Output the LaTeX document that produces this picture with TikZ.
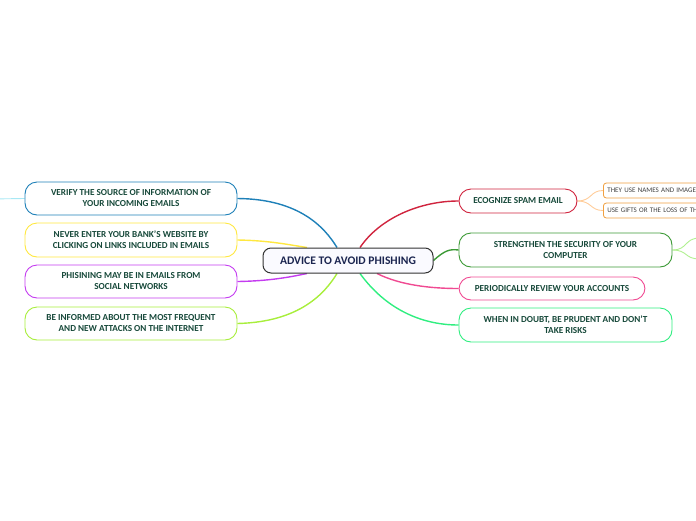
\documentclass[tikz,border=0pt]{standalone}
\usepackage{fontspec}
\setmainfont{Carlito}
\usetikzlibrary{backgrounds}
\definecolor{txt}{HTML}{17493A}
\definecolor{ctxt}{HTML}{1B2550}
\definecolor{cblue}{HTML}{1E80B8}
\definecolor{cyel}{HTML}{FFE840}
\definecolor{cpur}{HTML}{C43CF0}
\definecolor{clime}{HTML}{A8EE3C}
\definecolor{cred}{HTML}{D0243E}
\definecolor{cgreen}{HTML}{3C9A36}
\definecolor{cpink}{HTML}{F04A92}
\definecolor{cbgreen}{HTML}{30EE80}
\definecolor{corange}{HTML}{F0A040}
\definecolor{clorange}{HTML}{FFCC99}
\definecolor{clgreen}{HTML}{B0F090}
\definecolor{ccyan}{HTML}{A8E8F4}
\tikzset{
  topic/.style={draw=#1, line width=0.9pt, fill=white, rounded corners=12pt,
    align=center, font=\fontsize{9.2}{11}\selectfont\bfseries, text=txt, inner sep=0pt},
  central/.style={draw=black!80, line width=1pt, fill=blue!2, rounded corners=8pt,
    minimum width=170pt, minimum height=25pt, font=\fontsize{11.6}{13}\selectfont\bfseries, text=ctxt},
  sub/.style={draw=corange, line width=0.8pt, fill=white, rounded corners=3pt,
    minimum height=15pt, text width=160pt, anchor=west, align=left,
    font=\fontsize{7}{8}\selectfont, text=black!75, inner xsep=4pt, inner ysep=0pt},
  link/.style={line width=1.4pt, #1},
  thin/.style={line width=0.9pt, #1}
}
\begin{document}
\begin{tikzpicture}[x=1pt,y=-1pt]
\useasboundingbox (0,0) rectangle (696,520);
\clip (0,0) rectangle (696,520);
% central
\node[central] (c) at (348,260.5) {ADVICE TO AVOID PHISHING};
% left topics
\node[topic=cblue, minimum width=212pt, minimum height=33pt] (l1) at (131,198.5) {VERIFY THE SOURCE OF INFORMATION OF\\YOUR INCOMING EMAILS};
\node[topic=cyel, minimum width=212pt, minimum height=34pt] (l2) at (131,240) {NEVER ENTER YOUR BANK'S WEBSITE BY\\CLICKING ON LINKS INCLUDED IN EMAILS};
\node[topic=cpur, minimum width=212pt, minimum height=33pt] (l3) at (131,281.5) {PHISINING MAY BE IN EMAILS FROM\\SOCIAL NETWORKS};
\node[topic=clime, minimum width=212pt, minimum height=33pt] (l4) at (131,323.5) {BE INFORMED ABOUT THE MOST FREQUENT\\AND NEW ATTACKS ON THE INTERNET};
% right topics
\node[topic=cred, minimum width=118pt, minimum height=24pt] (r1) at (518,201) {ECOGNIZE SPAM EMAIL};
\node[topic=cgreen, minimum width=213pt, minimum height=34pt] (r2) at (565.5,250) {STRENGTHEN THE SECURITY OF YOUR\\COMPUTER};
\node[topic=cpink, minimum width=186pt, minimum height=23pt] (r3) at (552,288.5) {PERIODICALLY REVIEW YOUR ACCOUNTS};
\node[topic=cbgreen, minimum width=213pt, minimum height=34pt] (r4) at (565.5,325) {WHEN IN DOUBT, BE PRUDENT AND DON'T\\TAKE RISKS};
% subtopics
\node[sub] (s1) at (603,190.5) {THEY USE NAMES AND IMAGES OF};
\node[sub] (s2) at (603,210.5) {USE GIFTS OR THE LOSS OF THEIR};
\coordinate (lc) at (-10,199);
\coordinate (g1) at (700,238);
\coordinate (g2) at (700,259);
\begin{scope}[on background layer]
\draw[link=cblue] ([xshift=-11pt]c.north) .. controls (325,228) and (300,199) .. (l1.east);
\draw[link=cyel] ([xshift=-41pt]c.north) .. controls (290,245) and (270,240.5) .. (l2.east);
\draw[link=cpur] ([xshift=-41pt]c.south) .. controls (290,277) and (270,281) .. (l3.east);
\draw[link=clime] ([xshift=-11pt]c.south) .. controls (325,293) and (300,322) .. (l4.east);
\draw[link=cred] ([xshift=12pt]c.north) .. controls (380,218) and (420,201) .. (r1.west);
\draw[link=cgreen] (c.east) .. controls (445,250) and (450,249) .. (r2.west);
\draw[link=cpink] ([xshift=29pt]c.south) .. controls (400,285) and (430,288.5) .. (r3.west);
\draw[link=cbgreen] ([xshift=12pt]c.south) .. controls (385,308) and (420,325) .. (r4.west);
\draw[thin=ccyan] (l1.west) -- (lc);
\draw[thin=clorange] (r1.east) .. controls (592,201) and (590,190.5) .. (s1.west);
\draw[thin=clorange] (r1.east) .. controls (592,201) and (590,210.5) .. (s2.west);
\draw[thin=clgreen] (r2.east) .. controls (688,250) and (684,238) .. (g1);
\draw[thin=clgreen] (r2.east) .. controls (688,250) and (684,259) .. (g2);
\end{scope}
\end{tikzpicture}
\end{document}
